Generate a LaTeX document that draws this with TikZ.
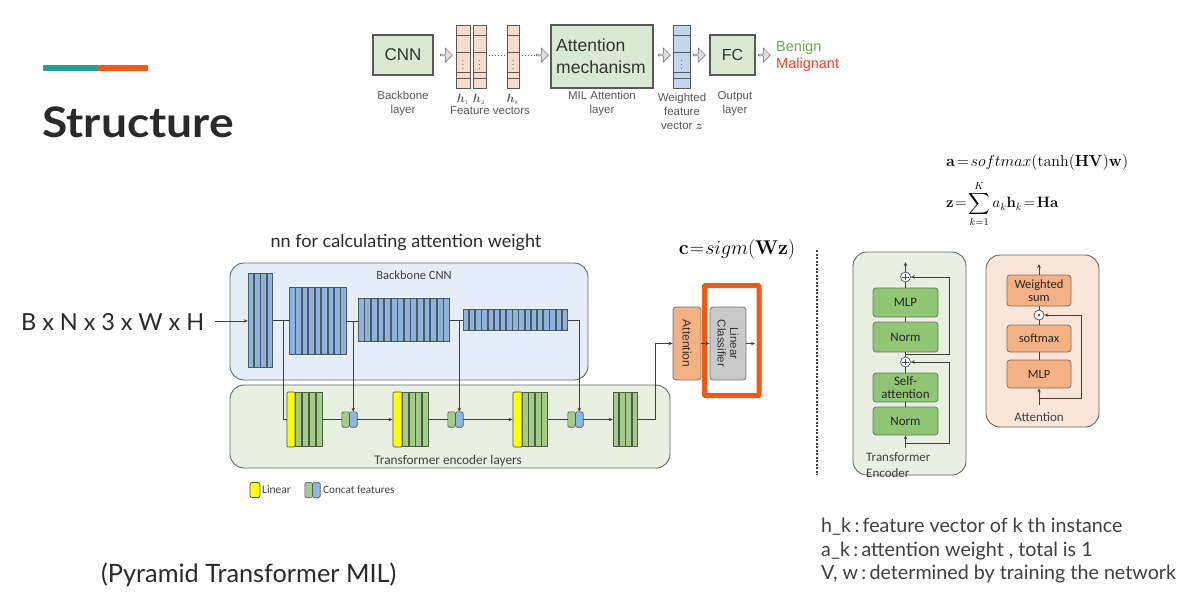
\documentclass[tikz,border=0pt]{standalone}
\usepackage{amsmath}
\usepackage[no-math]{fontspec}
\setmainfont{Lato}
\newfontfamily\carl{Carlito}
\newfontfamily\arl{Liberation Sans}
\usetikzlibrary{shapes.arrows,arrows.meta,calc}
\definecolor{tealc}{HTML}{25A08C}
\definecolor{orngc}{HTML}{EF5A17}
\definecolor{txtc}{HTML}{2A2A2A}
\definecolor{bbfill}{HTML}{E5EDF7}
\definecolor{tefill}{HTML}{E9F0E1}
\definecolor{bardk}{HTML}{4B5966}
\definecolor{barbl}{HTML}{8DB3DC}
\definecolor{grdk}{HTML}{4A5E44}
\definecolor{grbar}{HTML}{A3CC8A}
\definecolor{yel}{HTML}{FFFF00}
\definecolor{blc}{HTML}{8DB8E6}
\definecolor{orfill}{HTML}{F4B183}
\definecolor{gyfill}{HTML}{C9C9C9}
\definecolor{gblk}{HTML}{8FC673}
\definecolor{pfill}{HTML}{FBE5D8}
\definecolor{tgreen}{HTML}{D9EAD3}
\definecolor{tpeach}{HTML}{F9DCCB}
\definecolor{tblue}{HTML}{C2D7EE}
\definecolor{benc}{HTML}{6AA84F}
\definecolor{malc}{HTML}{E8402F}
\newcommand\barsblk[8]{%
  \node[inner sep=0pt,minimum width={(#4-#2)*1pt},minimum height={(#5-#3)*1pt}] (#1) at ({(#2+#4)/2},{(#3+#5)/2}) {};
  \fill[#7] (#2,#3) rectangle (#4,#5);
  \pgfmathsetmacro\bw{(#4-#2)/#6}
  \foreach \i in {1,...,#6}{\fill[#8] ({#2+(\i-1)*\bw+0.9},{#3+0.9}) rectangle ({#2+\i*\bw-0.9},{#5-0.9});}
}
\newcommand\tcol[5]{% name x0 x1 fill dots
  \node[draw=gray!70!black,fill=#4,line width=0.6pt,inner sep=0pt,minimum width={(#3-#2)*1pt},minimum height=63pt] (#1) at ({(#2+#3)/2},56.5) {};
  \foreach \yy in {35,52,72,78}{\draw[gray!70!black,line width=0.5pt] (#1.west |- 0,\yy) -- (#1.east |- 0,\yy);}
  \node[font=\arl\fontsize{7}{7}\selectfont,inner sep=0pt] at ({(#2+#3)/2},62) {$\vdots$};
}
\newcommand\gapx{\hspace{5.9pt}}
\tikzset{
  conn/.style={draw=black!75,line width=0.8pt},
  arr/.style={conn,-{Stealth[length=4pt,width=3.5pt]}},
  panel/.style={draw=black!60,line width=0.9pt,rounded corners=14pt},
  gblock/.style={draw=black!55,fill=gblk,line width=0.8pt,rounded corners=3pt,minimum width=65pt,inner sep=0pt,font=\carl\fontsize{13}{13.5}\selectfont,align=center,text=black!85},
  oblock/.style={draw=black!55,fill=orfill,line width=0.8pt,rounded corners=3pt,minimum width=64pt,inner sep=0pt,font=\carl\fontsize{12.5}{13}\selectfont,align=center,text=black!85},
  circ/.style={circle,draw=black!70,fill=white,line width=0.7pt,minimum size=10pt,inner sep=0pt},
  tbox/.style={draw=gray!70!black,fill=tgreen,line width=1.1pt,inner sep=0pt},
  barrow/.style={single arrow,draw=gray!80!black,fill=gray!25,line width=0.5pt,minimum width=14pt,single arrow head extend=2pt,minimum height=12pt,inner sep=0pt},
  tlbl/.style={font=\arl\fontsize{11.5}{14}\selectfont,text=black!65,inner sep=0pt,align=center},
}
\begin{document}
\begin{tikzpicture}[x=1pt,y=-1pt]
\useasboundingbox[fill=white] (0,0) rectangle (1196,603);
% title
\fill[tealc] (43,65) rectangle (97,71);
\fill[orngc] (97,65) rectangle (148,71);
\node[anchor=base west,inner sep=0pt,text=txtc,xscale=1.1,font=\fontsize{42}{42}\selectfont\bfseries] (title) at (42,137) {Structure};

% ===== top diagram =====
\node[tbox,minimum width=60pt,minimum height=40pt,font=\arl\fontsize{17}{17}\selectfont,text=black!80] (cnn) at (403,55) {CNN};
\node[barrow] (a1) at (446,55) {};
\tcol{h1}{456}{470}{tpeach}{}
\tcol{h2}{473}{486}{tpeach}{}
\tcol{hk}{507}{519}{tpeach}{}
\draw[gray!70!black,line width=1pt,dash pattern=on 1pt off 2pt] (h2.east |- 0,55) -- (hk.west |- 0,55);
\draw[gray!70!black,line width=1pt,dash pattern=on 1pt off 2pt] (hk.east |- 0,55) -- (536,55);
\node[barrow] (a2) at (542,55) {};
\node[tbox,minimum width=102pt,minimum height=63pt] (amech) at (602,56.5) {};
\node[anchor=west,inner sep=0pt,font=\arl\fontsize{17.5}{22}\selectfont,text=black!80,align=left] (amtxt) at (556,56) {Attention\\mechanism};
\node[barrow] (a3) at (664,55) {};
\tcol{zc}{673}{690}{tblue}{}
\node[barrow] (a4) at (699,55) {};
\node[tbox,minimum width=45pt,minimum height=40pt,font=\arl\fontsize{16}{16}\selectfont,text=black!80] (fc) at (732.5,55) {FC};
\node[barrow] (a5) at (764,55) {};
\node[anchor=west,inner sep=0pt,font=\arl\fontsize{14.5}{14.5}\selectfont,text=benc] (ben) at (776,48) {Benign};
\node[anchor=west,inner sep=0pt,font=\arl\fontsize{14.5}{14.5}\selectfont,text=malc] (mal) at (776,65) {Malignant};
\node[tlbl] (l1) at (403,104) {Backbone\\layer};
\node[tlbl] (lh1) at (463,99) {$\boldsymbol{h}_{\scriptscriptstyle 1}$};
\node[tlbl] (lh2) at (479,99) {$\boldsymbol{h}_{\scriptscriptstyle 2}$};
\node[tlbl] (lhk) at (513,99) {$\boldsymbol{h}_{\scriptscriptstyle k}$};
\node[tlbl] (l2) at (490,111) {Feature vectors};
\node[tlbl] (l3) at (602,104) {MIL Attention\\layer};
\node[tlbl] (l4) at (682,111) {Weighted\\feature\\vector $\boldsymbol{z}$};
\node[tlbl] (l5) at (735,104) {Output\\layer};

% ===== formulas =====
\node[anchor=west,inner sep=0pt,scale=1.11,font=\fontsize{14.4}{14.4}\selectfont] (f1) at (946,162) {$\mathbf{a}\!=\!softmax(\tanh(\mathbf{HV})\mathbf{w})$};
\node[anchor=west,inner sep=0pt,scale=1.04,font=\fontsize{14.4}{14.4}\selectfont] (f2) at (946,204) {$\displaystyle\mathbf{z}\!=\!\sum_{k=1}^{K}a_k\mathbf{h}_k\!=\!\mathbf{Ha}$};
\node[inner sep=0pt,scale=1.15,font=\fontsize{17.28}{17.28}\selectfont] (f3) at (737,250) {$\mathbf{c}\mkern1mu{=}\mkern1mu sigm(\mathbf{Wz})$};

% ===== left texts =====
\node[inner sep=0pt,text=txtc,font=\fontsize{18}{18}\selectfont] (nnl) at (406,243) {nn for calculating attention weight};
\node[anchor=west,inner sep=0pt,text=txtc,font=\fontsize{23.5}{23.5}\selectfont] (inp) at (21,322) {B\gapx x\gapx N\gapx x\gapx 3\gapx x\gapx W\gapx x\gapx H};
\node[anchor=west,inner sep=0pt,text=txtc,font=\fontsize{25.3}{25.3}\selectfont] (pyr) at (101,575) {(Pyramid Transformer MIL)};

% ===== backbone =====
\draw[panel,fill=bbfill] (230,263) rectangle (588,380);
\node[inner sep=0pt,font=\carl\fontsize{12.5}{12.5}\selectfont,text=black!75] (bbl) at (414,275) {Backbone CNN};
\barsblk{b1}{248}{273}{273}{368}{4}{bardk}{barbl}
\barsblk{b2}{289}{287}{347}{355}{9}{bardk}{barbl}
\barsblk{b3}{358}{298}{450}{342}{14}{bardk}{barbl}
\barsblk{b4}{463}{309}{568}{331}{17}{bardk}{barbl}
\coordinate (inpe) at (215,321);
\draw[arr] (inpe) -- (b1.west |- inpe);
\draw[conn] (b1.east) -- (b2.west |- b1.east);
\draw[conn] (b2.east) -- (b3.west |- b2.east);
\draw[conn] (b3.east) -- (b4.west |- b3.east);

% ===== transformer encoder layers =====
\draw[panel,fill=tefill] (230,385) rectangle (670,468);
\node[inner sep=0pt,font=\carl\fontsize{13.3}{13.3}\selectfont,text=black!75] (tel) at (448,461) {Transformer encoder layers};
\node[draw=black!70,fill=yel,line width=0.7pt,rounded corners=1pt,inner sep=0pt,minimum width=8pt,minimum height=55pt] (t1y) at (291,419.5) {};
\barsblk{t1}{295}{392}{323}{447}{4}{grdk}{grbar}
\node[draw=black!70,fill=yel,line width=0.7pt,rounded corners=1pt,inner sep=0pt,minimum width=9pt,minimum height=55pt] (t2y) at (397.5,419.5) {};
\barsblk{t2}{402}{392}{429}{447}{4}{grdk}{grbar}
\node[draw=black!70,fill=yel,line width=0.7pt,rounded corners=1pt,inner sep=0pt,minimum width=9pt,minimum height=55pt] (t3y) at (517.5,419.5) {};
\barsblk{t3}{522}{392}{548}{447}{4}{grdk}{grbar}
\barsblk{t4}{613}{392}{638}{447}{4}{grdk}{grbar}
\foreach \n/\cx in {c1/349.5,c2/455.5,c3/575.5}{
  \node[inner sep=0pt,minimum width=15pt,minimum height=15pt] (\n) at (\cx,419.5) {};
  \draw[draw=black!65,fill=grbar,line width=0.6pt,rounded corners=1.5pt] (\n.north west) rectangle (\n.south);
  \draw[draw=black!65,fill=blc,line width=0.6pt,rounded corners=1.5pt] (\n.north) rectangle (\n.south east);
}
\coordinate (s1) at (283,321);
\coordinate (s2) at (353.25,321);
\coordinate (s3) at (459.25,320);
\coordinate (s4) at (579.25,320);
\draw[conn] (s1) |- (t1y.west);
\draw[arr] (s2) -- (s2 |- c1.north);
\draw[arr] (s3) -- (s3 |- c2.north);
\draw[conn] (b4.east) -| (s4);
\draw[arr] (s4) -- (s4 |- c3.north);
\draw[conn] (t1.east) -- (c1.west);
\draw[arr] (c1.east) -- (t2y.west);
\draw[conn] (t2.east) -- (c2.west);
\draw[arr] (c2.east) -- (t3y.west);
\draw[conn] (t3.east) -- (c3.west);
\draw[arr] (c3.east) -- (t4.west);
% legend
\node[draw=black!70,fill=yel,line width=0.7pt,rounded corners=2pt,inner sep=0pt,minimum width=10pt,minimum height=15pt] (lg1) at (255,490) {};
\node[anchor=west,inner sep=0pt,font=\carl\fontsize{11.5}{11.5}\selectfont,text=black!75] (lg1t) at (262,490) {Linear};
\node[inner sep=0pt,minimum width=15pt,minimum height=15pt] (lg2) at (312.5,490) {};
\draw[draw=black!65,fill=grbar,line width=0.6pt,rounded corners=1.5pt] (lg2.north west) rectangle (lg2.south);
\draw[draw=black!65,fill=blc,line width=0.6pt,rounded corners=1.5pt] (lg2.north) rectangle (lg2.south east);
\node[anchor=west,inner sep=0pt,font=\carl\fontsize{11.2}{11.2}\selectfont,text=black!75] (lg2t) at (323,490) {Concat features};

% ===== attention & classifier =====
\node[draw=black!55,fill=orfill,line width=0.8pt,rounded corners=3pt,minimum width=28pt,minimum height=73pt,inner sep=0pt] (att) at (687,343.5) {};
\node[rotate=-90,inner sep=0pt,font=\arl\fontsize{12}{12}\selectfont,text=black!80] (attt) at (att.center) {Attention};
\node[draw=black!55,fill=gyfill,line width=0.8pt,rounded corners=3pt,minimum width=36pt,minimum height=73pt,inner sep=0pt] (cls) at (728,343.5) {};
\node[rotate=-90,inner sep=0pt,align=center,font=\arl\fontsize{11.5}{12.5}\selectfont,text=black!80] (clst) at (cls.center) {Linear\\Classifier};
\node[draw=orngc,line width=5pt,rounded corners=1pt,minimum width=54.5pt,minimum height=110pt,inner sep=0pt] (frame) at (731.75,340.5) {};
\coordinate (k1) at (655,419.5);
\draw[conn] (t4.east) -- (k1);
\draw[arr] (k1) |- (att.west);
\draw[arr] (att.east) -- (cls.west |- att.east);
\coordinate (outc) at (755,343.5);
\draw[arr] (cls.east) -- (outc);

% dashed separator
\coordinate (dv1) at (817,250);
\coordinate (dv2) at (817,475);
\draw[black!75,line width=1.1pt,dash pattern=on 2pt off 1.5pt] (dv1) -- (dv2);

% ===== transformer encoder detail =====
\draw[panel,fill=tefill] (853,252) rectangle (966,475);
\node[gblock,minimum height=29pt] (mlp) at (905.5,302.5) {MLP};
\node[gblock,minimum height=30pt] (nrm1) at (905.5,337) {Norm};
\node[gblock,minimum height=29pt] (sa) at (905.5,387.5) {Self-\\attention};
\node[gblock,minimum height=28pt] (nrm2) at (905.5,421) {Norm};
\node[circ] (p1) at (905.5,277) {};
\node[circ] (p2) at (905.5,362) {};
\draw[black!70,line width=0.6pt] ($(p1.north)+(0,2)$) -- ($(p1.south)+(0,-2)$) ($(p1.west)+(2,0)$) -- ($(p1.east)+(-2,0)$);
\draw[black!70,line width=0.6pt] ($(p2.north)+(0,2)$) -- ($(p2.south)+(0,-2)$) ($(p2.west)+(2,0)$) -- ($(p2.east)+(-2,0)$);
\coordinate (teout) at (905.5,262);
\coordinate (tein) at (905.5,448);
\coordinate (br1) at (905.5,354.5);
\coordinate (br2) at (905.5,443);
\coordinate (rx1) at (949,354.5);
\coordinate (rx2) at (949,443);
\draw[arr] (tein) -- (nrm2.south);
\draw[conn] (nrm2.north) -- (sa.south);
\draw[conn] (sa.north) -- (p2.south);
\draw[conn] (p2.north) -- (nrm1.south);
\draw[conn] (nrm1.north) -- (mlp.south);
\draw[conn] (mlp.north) -- (p1.south);
\draw[arr] (p1.north) -- (teout);
\draw[arr] (br1) -- (rx1) |- (p1.east);
\draw[arr] (br2) -- (rx2) |- (p2.east);
\node[anchor=west,inner sep=0pt,align=left,font=\carl\fontsize{13}{16}\selectfont,text=black!75] (tenc) at (866,465) {Transformer\\Encoder};

% ===== attention detail =====
\draw[panel,fill=pfill] (986,255) rectangle (1099,427);
\node[oblock,minimum height=31pt] (wsum) at (1039,290.5) {Weighted\\sum};
\node[oblock,minimum height=27pt] (smx) at (1039,338.5) {softmax};
\node[oblock,minimum height=28pt] (amlp) at (1039,374) {MLP};
\node[circ] (dt) at (1039,315) {};
\fill[black!75] (dt.center) circle (1.3pt);
\coordinate (aout) at (1039,264);
\coordinate (ain) at (1039,405);
\coordinate (ab) at (1039,398);
\coordinate (arx) at (1081,398);
\draw[arr] (ain) -- (amlp.south);
\draw[conn] (amlp.north) -- (smx.south);
\draw[conn] (smx.north) -- (dt.south);
\draw[conn] (dt.north) -- (wsum.south);
\draw[arr] (wsum.north) -- (aout);
\draw[arr] (ab) -- (arx) |- (dt.east);
\node[inner sep=0pt,font=\carl\fontsize{13}{13}\selectfont,text=black!75] (attl) at (1039,417) {Attention};

% ===== notes =====
\node[anchor=west,inner sep=0pt,align=left,font=\fontsize{19.7}{23.5}\selectfont,text=black!75] (notes) at (821,551) {h\_k\,:\,feature vector of k th instance\\a\_k\,:\,attention weight , total is 1\\V, w\,:\,determined by training the network};
\end{tikzpicture}
\end{document}
